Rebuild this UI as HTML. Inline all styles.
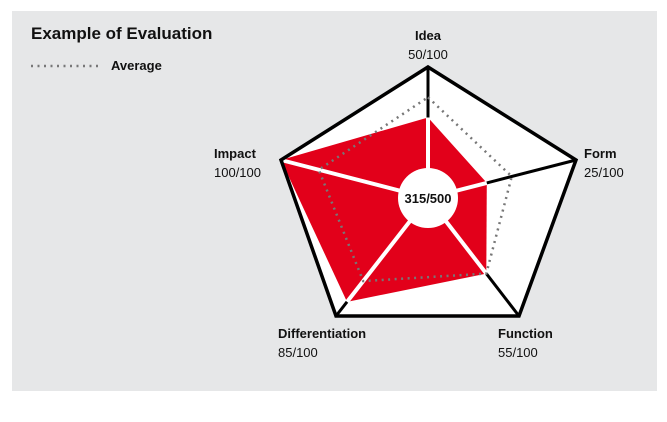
<!DOCTYPE html>
<html><head><meta charset="utf-8"><style>
body{margin:0;width:667px;height:422px;background:#fff;font-family:"Liberation Sans",sans-serif;overflow:hidden}
svg{position:absolute;left:0;top:0}
</style></head><body>
<svg width="667" height="422">
<rect x="12" y="11" width="645" height="380" fill="#e6e7e8"/>
<text x="31" y="39" font-size="17" font-weight="bold" fill="#111">Example of Evaluation</text>
<line x1="31" y1="66" x2="101" y2="66" stroke="#777" stroke-width="2.5" stroke-dasharray="2,4.5"/>
<text x="111" y="70" font-size="13" font-weight="bold" fill="#111">Average</text>
<g id="g"></g>
</svg>
<script>
const axes=["Idea","Form","Function","Differentiation","Impact"];
const scores=[50,25,55,85,100];
const averages=[70,46,55,63,68];
const total="315/500";
const C=[428,198], R0=30;
const outer=[[428,67],[576,160],[519,316],[336,316],[281,160]];
const NS="http://www.w3.org/2000/svg", g=document.getElementById('g');
function pt(i,v){const dx=outer[i][0]-C[0],dy=outer[i][1]-C[1],L=Math.hypot(dx,dy);const r=R0+(v/100)*(L-R0);return [C[0]+dx/L*r,C[1]+dy/L*r];}
function mk(t,a){const e=document.createElementNS(NS,t);for(const k in a)e.setAttribute(k,a[k]);g.appendChild(e);return e;}
let e=mk('polygon',{points:outer.map(p=>p.join(',')).join(' '),fill:'#fff'});


e=mk('polygon',{points:scores.map((v,i)=>pt(i,v).join(',')).join(' '),fill:'#e2001a'});


scores.forEach((v,i)=>{const p=pt(i,v);
 let s=mk('line',{x1:C[0],y1:C[1],x2:p[0],y2:p[1],stroke:'#fff','stroke-width':4});
 
 
 if(v<100){let b=mk('line',{x1:p[0],y1:p[1],x2:outer[i][0],y2:outer[i][1],stroke:'#000','stroke-width':3});
 
 }
});
e=mk('polygon',{points:averages.map((v,i)=>pt(i,v).join(',')).join(' '),fill:'none',stroke:'#777','stroke-width':2.5,'stroke-dasharray':'2,4.5'});


e=mk('polygon',{points:outer.map(p=>p.join(',')).join(' '),fill:'none',stroke:'#000','stroke-width':3.5,'stroke-linejoin':'miter'});


e=mk('circle',{cx:C[0],cy:C[1],r:R0,fill:'#fff'});


e=mk('text',{x:C[0],y:C[1]+5,'text-anchor':'middle','font-size':13,'font-weight':'bold',fill:'#111'});
e.textContent=total;


const lp=[[428,40,'middle'],[584,158,'start'],[498,338,'start'],[278,338,'start'],[214,158,'start']];
axes.forEach((a,i)=>{const [x,y,an]=lp[i];
 let t=mk('text',{x:x,y:y,'text-anchor':an,'font-size':13,'font-weight':'bold',fill:'#111'});t.textContent=a;
 
 
 let s=mk('text',{x:x,y:y+19,'text-anchor':an,'font-size':13,fill:'#111'});s.textContent=scores[i]+'/100';
 
 
});
</script>
</body></html>
